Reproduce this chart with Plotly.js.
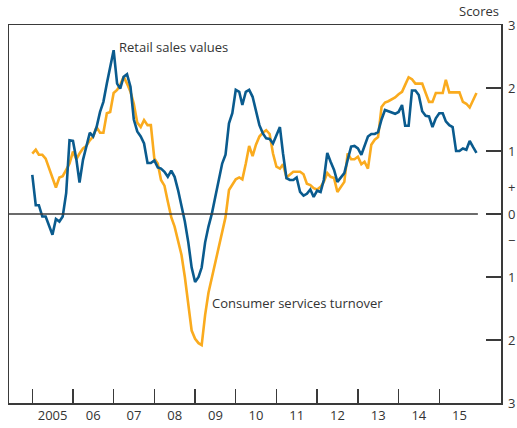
<!DOCTYPE html>
<html>
<head>
<meta charset="utf-8">
<script src="https://cdn.plot.ly/plotly-3.0.1.min.js"></script>
<style>html,body{margin:0;padding:0;background:#fff;}#chart{width:517px;height:428px;}</style>
</head>
<body>
<div id="chart"></div>
<script>
// Monthly series, Jan 2005 – Dec 2015 (scores)
const startYear = 2005;
const retailSales = [
 0.62,0.14,0.14,-0.04,-0.04,-0.2,-0.33,-0.08,-0.12,-0.04,0.33,1.17,
 1.16,0.86,0.5,0.86,1.07,1.29,1.23,1.38,1.62,1.78,2.07,2.31,
 2.6,2.07,1.99,2.18,2.22,2.02,1.5,1.31,1.23,1.12,0.81,0.81,
 0.85,0.74,0.72,0.67,0.59,0.69,0.59,0.38,0.12,-0.12,-0.45,-0.85,
 -1.08,-1.0,-0.85,-0.45,-0.2,0.01,0.27,0.54,0.8,0.94,1.44,1.6,
 1.97,1.94,1.73,1.94,1.97,1.86,1.63,1.41,1.28,1.2,1.19,1.12,
 1.25,1.38,0.96,0.57,0.54,0.54,0.58,0.35,0.29,0.32,0.39,0.27,
 0.37,0.35,0.54,0.97,0.83,0.7,0.51,0.59,0.65,0.86,1.07,1.08,
 1.04,0.94,1.07,1.23,1.27,1.27,1.3,1.5,1.65,1.63,1.61,1.59,
 1.62,1.73,1.4,1.4,1.96,1.96,1.89,1.63,1.56,1.55,1.38,1.52,
 1.6,1.6,1.47,1.41,1.38,1.0,1.0,1.04,1.02,1.16,1.06,0.97
];
const consumerServices = [
 0.96,1.02,0.94,0.94,0.88,0.72,0.55,0.42,0.58,0.6,0.7,0.8,
 0.99,0.87,0.96,1.04,1.08,1.17,1.23,1.38,1.29,1.29,1.6,1.62,
 1.92,1.97,2.05,2.18,2.07,1.94,1.75,1.45,1.38,1.49,1.41,1.41,
 0.88,0.8,0.54,0.45,0.2,-0.05,-0.2,-0.42,-0.65,-1.0,-1.4,-1.85,
 -1.98,-2.05,-2.08,-1.6,-1.25,-1.0,-0.75,-0.5,-0.28,-0.05,0.38,0.47,
 0.55,0.58,0.55,0.8,1.08,0.92,1.1,1.23,1.29,1.33,1.27,0.96,
 0.75,0.72,0.79,0.58,0.62,0.67,0.67,0.67,0.63,0.48,0.46,0.41,
 0.39,0.43,0.51,0.65,0.59,0.57,0.35,0.44,0.51,0.96,0.87,0.87,
 0.91,0.79,0.83,0.72,1.1,1.18,1.22,1.7,1.77,1.79,1.82,1.85,
 1.9,1.94,2.05,2.17,2.14,2.07,2.07,2.07,1.92,1.78,1.78,1.92,
 1.92,1.92,2.13,1.93,1.93,1.93,1.93,1.78,1.75,1.69,1.82,1.92
];
const yearLabels = ['2005','06','07','08','09','10','11','12','13','14','15'];
const yTickVals = [-3,-2,-1,-0.42,0,0.42,1,2,3];
const yTickText = ['3','2','1','\u2212','0','+','1','2','3'];
const yMarkVals = [-2,-1,0,1,2];

function monthDate(i){
  const y = startYear + Math.floor(i/12);
  const m = (i % 12) + 1;
  return y + '-' + String(m).padStart(2,'0') + '-01';
}
const dates = retailSales.map((_, i) => monthDate(i));
const years = yearLabels.map((_, i) => startYear + i);
const yearStarts = years.map(y => y + '-01-01');
const yearMids = years.map(y => y + '-07-02');

const font = {family: '"Open Sans", "Noto Sans", sans-serif', size: 13, color: '#333'};

const traces = [
  {x: dates, y: consumerServices, type: 'scatter', mode: 'lines', name: 'Consumer services turnover',
   line: {color: '#FAAB1E', width: 2.6}, hoverinfo: 'x+y'},
  {x: dates, y: retailSales, type: 'scatter', mode: 'lines', name: 'Retail sales values',
   line: {color: '#0A5B8E', width: 2.6}, hoverinfo: 'x+y'}
];

const layout = {
  width: 517, height: 428,
  margin: {l: 9, r: 16, t: 25, b: 25},
  paper_bgcolor: '#fff', plot_bgcolor: '#fff',
  showlegend: false,
  font: font,
  xaxis: {
    type: 'date',
    range: ['2004-06-06', '2016-07-08'],
    tickmode: 'array', tickvals: yearMids, ticktext: yearLabels,
    ticks: '', showgrid: false, zeroline: false,
    showline: true, linecolor: '#3a3a3a', linewidth: 1.5, mirror: true,
    tickfont: font,
    minor: {tickmode: 'array', tickvals: yearStarts, ticks: 'inside', ticklen: 14,
            tickwidth: 1.3, tickcolor: '#3a3a3a', showgrid: false}
  },
  yaxis: {
    side: 'right',
    range: [-3, 3],
    tickmode: 'array', tickvals: yTickVals, ticktext: yTickText,
    ticks: '', showgrid: false, zeroline: false,
    showline: true, linecolor: '#3a3a3a', linewidth: 1.5, mirror: true,
    tickfont: font, ticklabelstandoff: 3,
    minor: {tickmode: 'array', tickvals: yMarkVals, ticks: 'inside', ticklen: 15,
            tickwidth: 1.3, tickcolor: '#3a3a3a', showgrid: false}
  },
  shapes: [
    {type: 'line', xref: 'paper', yref: 'y', x0: 0, x1: 0.953, y0: 0, y1: 0,
     line: {color: '#3a3a3a', width: 1.3}}
  ],
  annotations: [
    {text: 'Retail sales values', xref: 'x', yref: 'y', x: '2007-02-01', y: 2.65,
     xanchor: 'left', yanchor: 'middle', showarrow: false, font: font},
    {text: 'Consumer services turnover', xref: 'x', yref: 'y', x: '2009-05-15', y: -1.42,
     xanchor: 'left', yanchor: 'middle', showarrow: false, font: font},
    {text: 'Scores', xref: 'paper', yref: 'paper', x: 1, y: 1, xanchor: 'right', yanchor: 'bottom',
     yshift: 3, showarrow: false, font: font}
  ]
};

Plotly.newPlot('chart', traces, layout, {displayModeBar: false, staticPlot: true});
</script>
</body>
</html>
